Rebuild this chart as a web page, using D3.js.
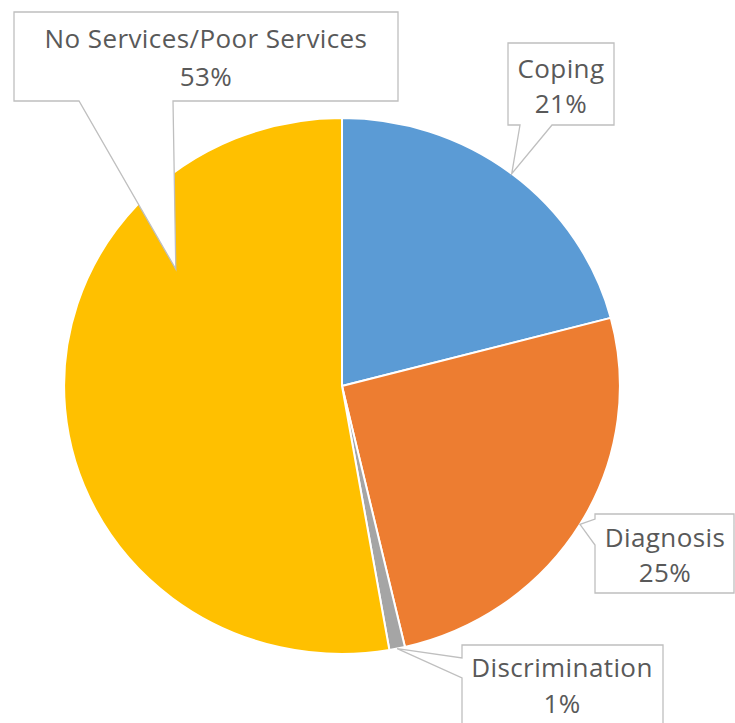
<!DOCTYPE html>
<html>
<head>
<meta charset="utf-8">
<script src="https://cdn.jsdelivr.net/npm/d3@7"></script>
<style>
  body { margin: 0; background: #fff; }
  svg { display: block; }
</style>
</head>
<body>
<div id="chart"></div>
<script>
// data
const categories = ["Coping", "Diagnosis", "Discrimination", "No Services/Poor Services"];
const counts = [23, 28, 1, 58];
const colors = ["#5B9BD5", "#ED7D31", "#A5A5A5", "#FFC000"];

var width = 735, height = 723;
var cx = 342, cy = 386, radius = 268, stretchX = 1.037;

const svg = d3.select("#chart").append("svg")
    .attr("width", width)
    .attr("height", height);

const total = d3.sum(counts);
const arcs = d3.pie().sort(null).value(d => d)(counts);
const arc = d3.arc().innerRadius(0).outerRadius(radius);

const pieG = svg.append("g")
    .attr("transform", "translate(" + cx + "," + cy + ") scale(" + stretchX + ",1)");

pieG.selectAll("path")
    .data(arcs)
    .enter().append("path")
    .attr("d", arc)
    .attr("fill", (d, i) => colors[i])
    .attr("stroke", "#fff")
    .attr("stroke-width", 2)
    .attr("vector-effect", "non-scaling-stroke");

// callout layout: box, side of the pointer, where the pointer base sits,
// and where the tip lands (angle offset from slice middle, fraction of radius)
const callouts = [
    { box: [508, 43, 106, 82], side: "bottom", base: [520, 552], dA: 0, rF: 1.0, tx: 561, ty: [78, 113] },
    { box: [595, 514, 139, 79], side: "left", base: [519, 545], dA: 0, rF: 1.0, tx: 665, ty: [547, 582] },
    { box: [462, 645, 201, 100], side: "left", base: [658, 678], dA: 0, rF: 1.0, tx: 562, ty: [677, 713] },
    { box: [14, 12, 384, 89], side: "bottom", base: [79, 173], dA: 41, rF: 0.74, tx: 206, ty: [48, 86] }
];

function tipPoint(d, c) {
    var a = (d.startAngle + d.endAngle) / 2 + c.dA * Math.PI / 180;
    var r = radius * c.rF;
    return [cx + stretchX * r * Math.sin(a), cy - r * Math.cos(a)];
}

function calloutPath(d, i) {
    var c = callouts[i];
    var x = c.box[0], y = c.box[1], w = c.box[2], h = c.box[3];
    var t = tipPoint(d, c);
    if (c.side == "bottom") {
        return "M" + x + "," + y + "H" + (x + w) + "V" + (y + h) + "H" + c.base[1] +
            "L" + t[0] + "," + t[1] + "L" + c.base[0] + "," + (y + h) + "H" + x + "Z";
    } else {
        return "M" + x + "," + y + "H" + (x + w) + "V" + (y + h) + "H" + x + "V" + c.base[1] +
            "L" + t[0] + "," + t[1] + "L" + x + "," + c.base[0] + "Z";
    }
}

const labels = svg.selectAll(".callout")
    .data(arcs)
    .enter().append("g")
    .attr("class", "callout");

labels.append("path")
    .attr("d", calloutPath)
    .attr("fill", "#fff")
    .attr("stroke", "#BFBFBF")
    .attr("stroke-width", 1.3);

labels.append("text")
    .attr("x", (d, i) => callouts[i].tx)
    .attr("y", (d, i) => callouts[i].ty[0])
    .attr("text-anchor", "middle")
    .attr("font-family", "'Open Sans', sans-serif")
    .attr("font-size", 26)
    .attr("letter-spacing", 0.4)
    .attr("fill", "#595959")
    .text((d, i) => categories[i]);

labels.append("text")
    .attr("x", (d, i) => callouts[i].tx)
    .attr("y", (d, i) => callouts[i].ty[1])
    .attr("text-anchor", "middle")
    .attr("font-family", "'Open Sans', sans-serif")
    .attr("font-size", 26)
    .attr("letter-spacing", 0.4)
    .attr("fill", "#595959")
    .text(d => Math.round(d.value / total * 100) + "%");
</script>
</body>
</html>
